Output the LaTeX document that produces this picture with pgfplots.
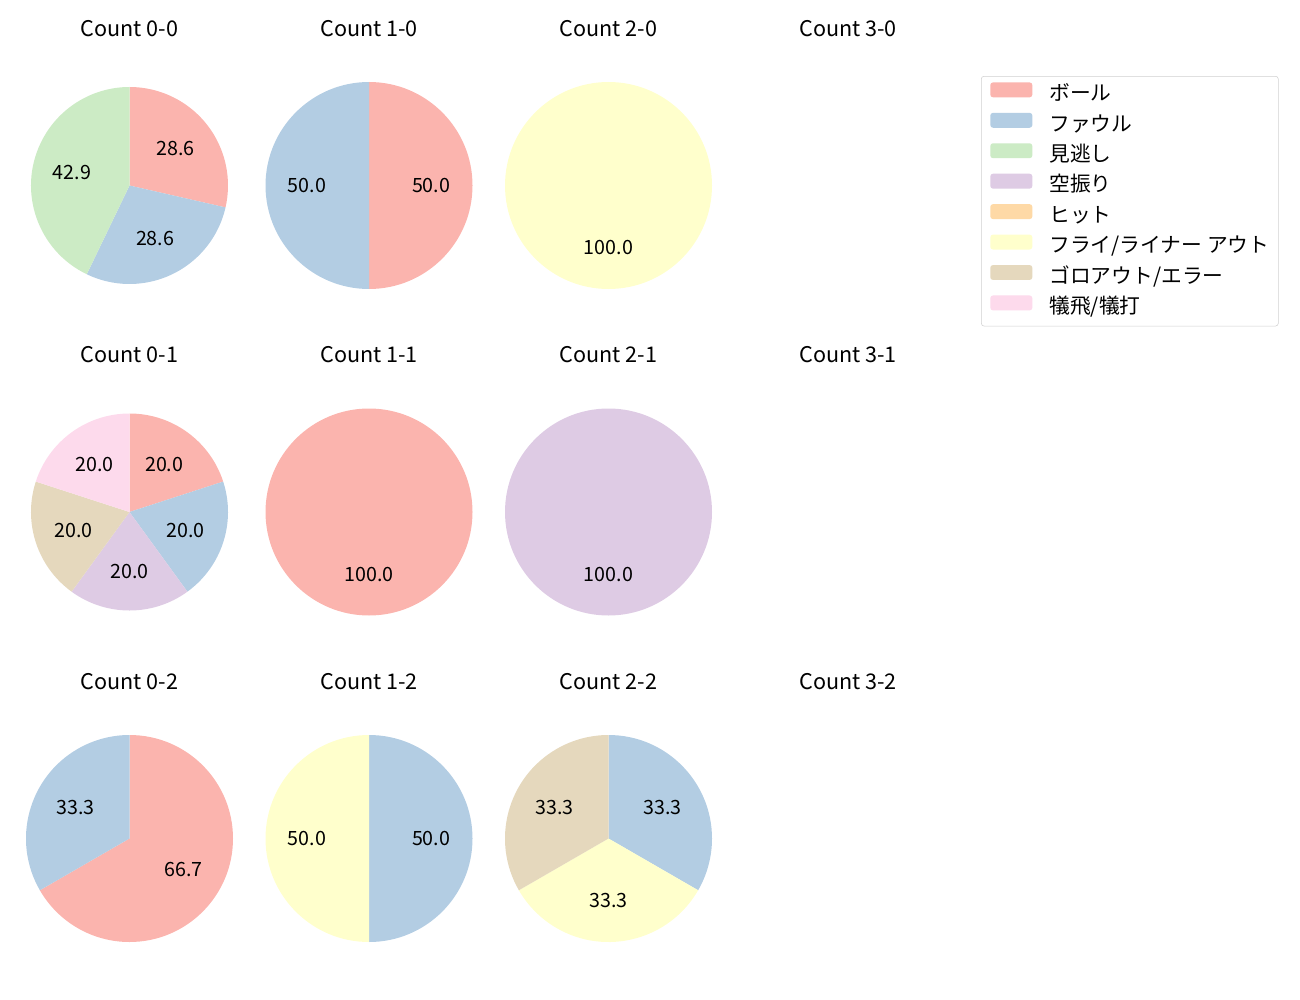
\documentclass[border=0pt]{standalone}
\usepackage{fontspec}
\setmainfont{Noto Sans CJK JP}
\usepackage{pgfplots}
\pgfplotsset{compat=1.18}

% Pastel1 colours
\definecolor{ball}{HTML}{FBB4AE}
\definecolor{foul}{HTML}{B3CDE3}
\definecolor{miss}{HTML}{CCEBC5}
\definecolor{swing}{HTML}{DECBE4}
\definecolor{hit}{HTML}{FED9A6}
\definecolor{fly}{HTML}{FFFFCC}
\definecolor{ground}{HTML}{E5D8BD}
\definecolor{sac}{HTML}{FDDAEC}

\def\px{0.7227pt}
\newcommand\labfont{\fontsize{14.2}{16}\selectfont}

% #1 radius (px), #2 list count/colour, clockwise from 12 o'clock
\newcommand\drawpie[2]{%
  \gdef\pietot{0}%
  \foreach \n/\cl in {#2}{\pgfmathsetmacro\t{\pietot+\n}\xdef\pietot{\t}}%
  \gdef\pieang{90}%
  \gdef\piecmds{}%
  \gdef\pielabs{}%
  \foreach \n/\cl in {#2}{%
    \pgfmathsetmacro\sw{360*\n/\pietot}%
    \pgfmathsetmacro\ae{\pieang-\sw}%
    \pgfmathsetmacro\am{\pieang-\sw/2}%
    \pgfmathsetmacro\pc{100*\n/\pietot}%
    \pgfmathsetmacro\sx{#1*cos(\pieang)}%
    \pgfmathsetmacro\sy{#1*sin(\pieang)}%
    \pgfmathsetmacro\lx{0.6*#1*cos(\am)}%
    \pgfmathsetmacro\ly{0.6*#1*sin(\am)}%
    \xdef\piecmds{\unexpanded\expandafter{\piecmds}%
      \noexpand\fill[\cl] (axis cs:0,0) -- (axis cs:\sx,\sy)
        arc[start angle=\pieang, end angle=\ae, radius=#1*\px] -- cycle;}%
    \xdef\pielabs{\unexpanded\expandafter{\pielabs}%
      \noexpand\node[font=\noexpand\labfont] at (axis cs:\lx,\ly)
        {\noexpand\pgfmathprintnumber[fixed,fixed zerofill,precision=1,assume math mode=true]{\pc}};}%
    \xdef\pieang{\ae}%
  }%
  \piecmds\pielabs
}

\pgfplotsset{
  pieax/.style={
    hide axis, clip=false,
    x=\px, y=\px,
    xmin=-120, xmax=120, ymin=-157, ymax=157,
    anchor=center,
    every axis title shift=0pt,
    title style={at={(0.5,1)}, anchor=center, font=\fontsize{15.6}{18}\selectfont},
  },
}

\begin{document}
\begin{tikzpicture}
\path[use as bounding box] (0,0) rectangle ({1300*\px},{-1000*\px});

% row 0
\begin{axis}[pieax, at={({129.5*\px},{-185.5*\px})}, title={Count 0-0}]
\drawpie{98.5}{2/ball,2/foul,3/miss}
\end{axis}
\begin{axis}[pieax, at={({369*\px},{-185.5*\px})}, title={Count 1-0}]
\drawpie{103.5}{1/ball,1/foul}
\end{axis}
\begin{axis}[pieax, at={({608.5*\px},{-185.5*\px})}, title={Count 2-0}]
\drawpie{103.5}{1/fly}
\end{axis}
\begin{axis}[pieax, at={({848*\px},{-185.5*\px})}, title={Count 3-0},
  legend image code/.code={\fill[#1] (0pt,-0.6pt) rectangle (30.4pt,10.2pt);},
  legend style={at={(1.0542,0.8487)}, anchor=north west,
    draw=black!18, rounded corners=2pt, fill=white,
    inner xsep=6.5pt, inner ysep=4.4pt,
    row sep=4.3pt, column sep=12.3pt,
    font=\fontsize{15}{17}\selectfont,
    nodes={inner sep=0pt, text height=10.5pt, text depth=4.5pt},
    cells={anchor=west}},
  ]
\addlegendimage{fill=ball, draw=none}\addlegendentry{ボール}
\addlegendimage{fill=foul, draw=none}\addlegendentry{ファウル}
\addlegendimage{fill=miss, draw=none}\addlegendentry{見逃し}
\addlegendimage{fill=swing, draw=none}\addlegendentry{空振り}
\addlegendimage{fill=hit, draw=none}\addlegendentry{ヒット}
\addlegendimage{fill=fly, draw=none}\addlegendentry{フライ/ライナー アウト}
\addlegendimage{fill=ground, draw=none}\addlegendentry{ゴロアウト/エラー}
\addlegendimage{fill=sac, draw=none}\addlegendentry{犠飛/犠打}
\end{axis}

% row 1
\begin{axis}[pieax, at={({129.5*\px},{-512*\px})}, title={Count 0-1}]
\drawpie{98.5}{1/ball,1/foul,1/swing,1/ground,1/sac}
\end{axis}
\begin{axis}[pieax, at={({369*\px},{-512*\px})}, title={Count 1-1}]
\drawpie{103.5}{1/ball}
\end{axis}
\begin{axis}[pieax, at={({608.5*\px},{-512*\px})}, title={Count 2-1}]
\drawpie{103.5}{1/swing}
\end{axis}
\begin{axis}[pieax, at={({848*\px},{-512*\px})}, title={Count 3-1}]
\end{axis}

% row 2
\begin{axis}[pieax, at={({129.5*\px},{-838.5*\px})}, title={Count 0-2}]
\drawpie{103.5}{2/ball,1/foul}
\end{axis}
\begin{axis}[pieax, at={({369*\px},{-838.5*\px})}, title={Count 1-2}]
\drawpie{103.5}{1/foul,1/fly}
\end{axis}
\begin{axis}[pieax, at={({608.5*\px},{-838.5*\px})}, title={Count 2-2}]
\drawpie{103.5}{1/foul,1/fly,1/ground}
\end{axis}
\begin{axis}[pieax, at={({848*\px},{-838.5*\px})}, title={Count 3-2}]
\end{axis}
\end{tikzpicture}
\end{document}
